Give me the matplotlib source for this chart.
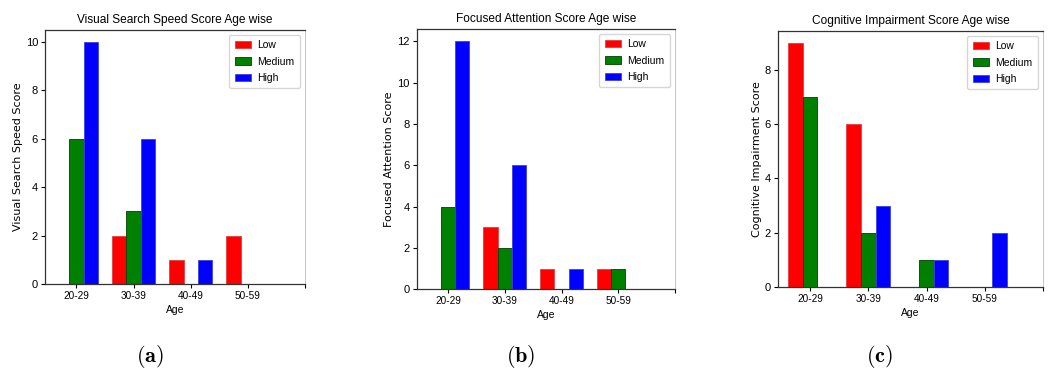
import matplotlib.pyplot as plt
import numpy as np

ages = ['20-29', '30-39', '40-49', '50-59']
levels = ['Low', 'Medium', 'High']
colors = ['red', 'green', 'blue']
edges = ['#e04040', '#004000', '#4040e0']

# scores per age group, one list per level
visual_low = [0, 2, 1, 2]
visual_medium = [6, 3, 0, 0]
visual_high = [10, 6, 1, 0]

focused_low = [0, 3, 1, 1]
focused_medium = [4, 2, 0, 1]
focused_high = [12, 6, 1, 0]

cognitive_low = [9, 6, 0, 0]
cognitive_medium = [7, 2, 1, 0]
cognitive_high = [0, 3, 1, 2]

panels = [
    ('Visual Search Speed Score Age wise', 'Visual Search Speed Score',
     [visual_low, visual_medium, visual_high], 'a',
     [0.0428, 0.2345, 0.2474, 0.6846], 0.143),
    ('Focused Attention Score Age wise', 'Focused Attention Score',
     [focused_low, focused_medium, focused_high], 'b',
     [0.3965, 0.2202, 0.2458, 0.7016], 0.495),
    ('Cognitive Impairment Score Age wise', 'Cognitive Impairment Score',
     [cognitive_low, cognitive_medium, cognitive_high], 'c',
     [0.7403, 0.2272, 0.2521, 0.6892], 0.837),
]

narrow = ['Liberation Sans Narrow', 'Liberation Sans', 'DejaVu Sans']

fig = plt.figure(figsize=(10.51, 3.71), dpi=100)
x = np.arange(len(ages))
w = 0.25

for title, ylab, series, tag, rect, tx in panels:
    ax = fig.add_axes(rect)
    for k in range(3):
        ax.bar(x + (k - 1) * w, series[k], w, color=colors[k],
               edgecolor=edges[k], linewidth=0.6, label=levels[k])
    ax.set_xticks(list(x) + [4])
    ax.set_xticklabels(ages + [''], family=narrow, fontsize=7.2)
    ax.set_xlim(-0.55, 4)
    for lab in ax.get_yticklabels():
        lab.set_family(narrow)
        lab.set_fontsize(8)
    ax.set_title(title, family=narrow, fontsize=8.6, pad=5)
    ax.set_xlabel('Age', family=narrow, fontsize=7.5, labelpad=3)
    ax.set_ylabel(ylab, fontsize=8, labelpad=2)
    ax.tick_params(length=3, width=0.8, pad=2)
    for s in ax.spines.values():
        s.set_color('#333333')
        s.set_linewidth(0.9)
    ax.spines['right'].set_color('#aaaaaa')
    ax.spines['right'].set_linewidth(0.5)
    ax.legend(loc='upper right', prop={'family': narrow, 'size': 7.5},
              handlelength=1.6, borderpad=0.5, labelspacing=0.6,
              handletextpad=0.6)
    fig.text(tx, 0.04, r'$(\mathbf{%s})$' % tag, ha='center', va='center',
             fontsize=16, math_fontfamily='cm')

plt.savefig('out.png', dpi=100)
